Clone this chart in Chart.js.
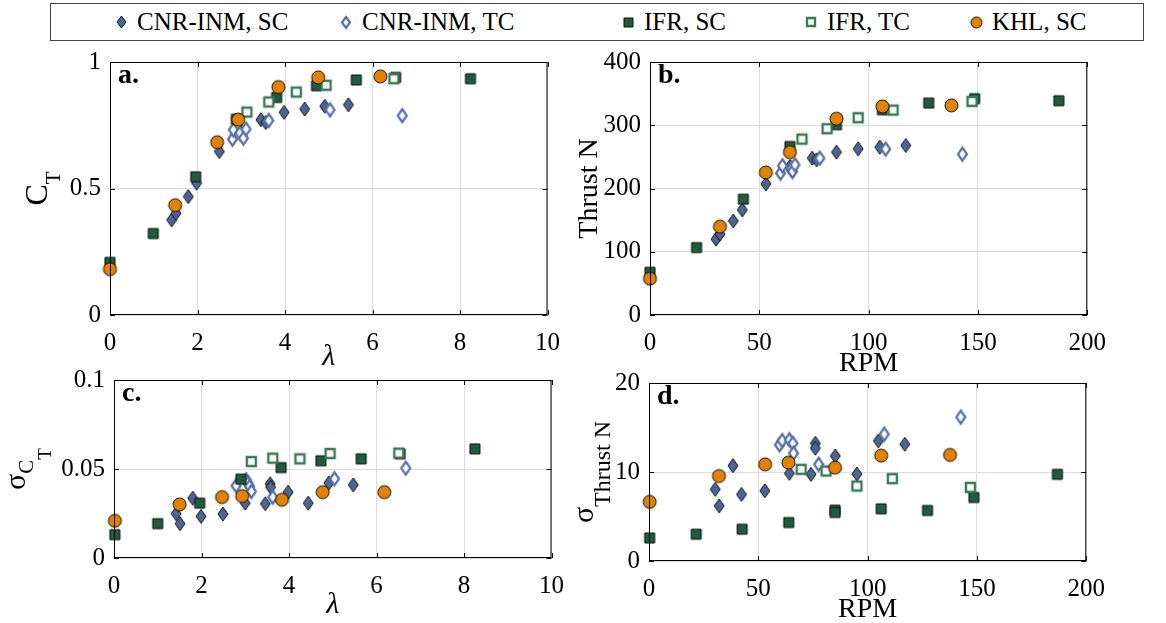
<!DOCTYPE html>
<html>
<head>
<meta charset="utf-8">
<script src="https://cdn.jsdelivr.net/npm/chart.js@4.4.0/dist/chart.umd.min.js"></script>
<style>
  body { margin: 0; background: #fff; width: 1166px; height: 623px; position: relative; overflow: hidden; font-family: "Liberation Serif", serif; }
  .plot { position: absolute; }
  #legend { position: absolute; left: 50px; top: 3px; width: 1092px; height: 36px; border: 1px solid #444; }
  #legend canvas { position: absolute; }
  #legend span { position: absolute; top: 0; line-height: 36px; font-size: 25px; color: #000; white-space: nowrap; }
</style>
</head>
<body>
<div id="legend"></div>
<canvas id="ct" class="plot" width="565" height="330"></canvas>
<canvas id="thrust" class="plot" width="540" height="330"></canvas>
<canvas id="sct" class="plot" width="565" height="259"></canvas>
<canvas id="sthrust" class="plot" width="540" height="256"></canvas>
<script>
// series names
const seriesNames = ['CNR-INM, SC', 'CNR-INM, TC', 'IFR, SC', 'IFR, TC', 'KHL, SC'];

// a. thrust coefficient vs tip speed ratio  [lambda, C_T]
const ctCnrSc = [[1.41,0.376],[1.51,0.402],[1.79,0.468],[1.98,0.521],[2.50,0.646],[3.01,0.726],[3.45,0.772],[3.56,0.761],[3.98,0.801],[4.45,0.814],[4.91,0.825],[5.45,0.831]];
const ctCnrTc = [[2.80,0.695],[2.82,0.732],[2.97,0.719],[3.05,0.699],[3.11,0.735],[3.63,0.769],[5.03,0.811],[6.68,0.788]];
const ctIfrSc = [[0,0.208],[0.99,0.322],[1.96,0.546],[2.89,0.774],[3.81,0.860],[4.72,0.906],[5.63,0.929],[6.53,0.939],[8.24,0.934]];
const ctIfrTc = [[3.13,0.802],[3.63,0.842],[4.26,0.881],[4.94,0.908],[6.49,0.934]];
const ctKhlSc = [[0,0.181],[1.49,0.434],[2.45,0.683],[2.93,0.772],[3.85,0.901],[4.76,0.939],[6.18,0.943]];

// b. thrust vs rotor speed  [RPM, N]
const thCnrSc = [[30.2,119.8],[32.0,128],[38.1,148.8],[42.2,166.2],[53.0,207.4],[64.0,234.8],[64.7,228.5],[74.2,248],[76.2,245.4],[85.3,257.5],[95.2,262.8],[105.1,265.4],[117.0,268]];
const thCnrTc = [[59.7,224.3],[60.6,235.9],[64.7,232.2],[65.2,226.9],[66.3,237.5],[77.7,248],[107.8,262.3],[142.9,254.3]];
const thIfrSc = [[0,67.5],[21.3,106.6],[42.7,183.1],[64.0,266.5],[85.3,300.8],[106.3,324.5],[127.5,335.1],[148.5,342],[187,338.8]];
const thIfrTc = [[69.5,278.1],[81.0,294.5],[95.2,311.9],[111.2,324],[147.3,337.7]];
const thKhlSc = [[0,57.5],[32.0,139.8],[53.0,225.3],[64.0,257.5],[85.3,310.3],[106.3,329.8],[137.9,331.4]];

// c. std of C_T vs lambda
const sctCnrSc = [[1.42,0.0249],[1.51,0.0193],[1.80,0.0336],[1.99,0.0234],[2.49,0.0247],[3.00,0.0308],[3.46,0.0305],[3.57,0.0417],[3.58,0.0398],[3.98,0.0370],[4.44,0.0308],[4.91,0.0421],[5.47,0.0411]];
const sctCnrTc = [[2.79,0.0406],[3.02,0.0439],[3.06,0.0421],[3.10,0.0402],[3.14,0.0374],[3.63,0.0342],[5.04,0.0445],[6.67,0.0505]];
const sctIfrSc = [[0.02,0.0131],[1.00,0.0193],[1.96,0.0308],[2.90,0.0443],[3.82,0.0508],[4.73,0.0546],[5.65,0.0557],[6.54,0.0585],[8.25,0.0613]];
const sctIfrTc = [[3.14,0.0542],[3.63,0.0561],[4.25,0.0557],[4.94,0.0587],[6.51,0.0589]];
const sctKhlSc = [[0.02,0.0209],[1.50,0.0301],[2.47,0.0342],[2.93,0.0348],[3.84,0.0327],[4.77,0.0370],[6.18,0.0370]];

// d. std of thrust vs RPM
const sthCnrSc = [[30.3,8.05],[32.1,6.20],[38.4,10.71],[42.3,7.48],[53.0,7.89],[64.2,9.85],[74.1,9.74],[76.1,13.23],[76.1,12.67],[85.2,11.80],[95.1,9.77],[104.9,13.50],[117.0,13.12]];
const sthCnrTc = [[59.7,13.05],[60.9,13.53],[64.2,13.61],[65.8,13.23],[66.1,12.11],[77.6,10.86],[107.6,14.25],[142.6,16.17]];
const sthIfrSc = [[0.3,2.59],[21.6,3.01],[42.6,3.57],[63.9,4.32],[85.1,5.71],[85.1,5.45],[106.2,5.86],[127.4,5.68],[148.6,7.14],[186.8,9.74]];
const sthIfrTc = [[69.6,10.30],[81.0,10.11],[95.1,8.42],[111.3,9.25],[147.0,8.27]];
const sthKhlSc = [[0.3,6.65],[32.0,9.55],[53.1,10.86],[63.8,11.05],[85.1,10.49],[106.2,11.84],[137.7,11.92]];

const FONT = '"Liberation Serif", "Times New Roman", serif';

// marker images used as point styles
function marker(shape, fill, stroke, lw, w, h) {
    let c = document.createElement('canvas');
    c.width = w + 2 * lw + 2;
    c.height = h + 2 * lw + 2;
    let g = c.getContext('2d');
    let cx = c.width / 2, cy = c.height / 2;
    g.beginPath();
    if (shape == 'diamond') {
        g.moveTo(cx, cy - h / 2); g.lineTo(cx + w / 2, cy);
        g.lineTo(cx, cy + h / 2); g.lineTo(cx - w / 2, cy);
        g.closePath();
    } else if (shape == 'square') {
        g.rect(cx - w / 2, cy - h / 2, w, h);
    } else {
        g.arc(cx, cy, w / 2, 0, Math.PI * 2);
    }
    g.fillStyle = fill;
    g.fill();
    g.lineWidth = lw;
    g.strokeStyle = stroke;
    g.stroke();
    return c;
}

function makeMarkers(scale) {
    let s = v => Math.round(v * scale);
    return [
        marker('diamond', '#4c6597', '#111', 1, s(10), s(14)),
        marker('diamond', '#fff', '#5671a9', 2.2, s(9), s(13)),
        marker('square', '#1f5b3d', '#111', 1, s(10), s(10)),
        marker('square', '#fff', '#3a7a57', 2.4, s(9), s(9)),
        marker('circle', '#e58100', '#111', 1, s(13), s(13))
    ];
}

const markers = makeMarkers(1);

function buildDatasets(series) {
    return series.map((pts, i) => ({
        label: seriesNames[i],
        data: pts.map(p => ({ x: p[0], y: p[1] })),
        pointStyle: markers[i],
        pointRadius: 5,
        showLine: false,
        clip: false,
        order: 4 - i
    }));
}

// draws a rotated axis title made of baseline-shifted parts
function drawVLabel(ctx, parts, x, yc) {
    ctx.save();
    ctx.translate(x, yc);
    ctx.rotate(-Math.PI / 2);
    let total = 0;
    parts.forEach(p => { ctx.font = p.font; p.w = ctx.measureText(p.text).width; total += p.w; });
    let cx = -total / 2;
    ctx.textBaseline = 'alphabetic';
    ctx.textAlign = 'left';
    parts.forEach(p => { ctx.font = p.font; ctx.fillText(p.text, cx, p.dy); cx += p.w; });
    ctx.restore();
}

// box around the axes, inward ticks, panel letter and axis titles
const framePlugin = {
    id: 'frame',
    afterDraw(chart, args, opts) {
        const ctx = chart.ctx;
        const a = chart.chartArea;
        const sx = chart.scales.x, sy = chart.scales.y;
        ctx.save();
        ctx.strokeStyle = '#000';
        ctx.lineWidth = 1;
        ctx.beginPath();
        sx.ticks.forEach(t => {
            let px = Math.round(sx.getPixelForValue(t.value)) + 0.5;
            ctx.moveTo(px, a.bottom); ctx.lineTo(px, a.bottom - 5);
            ctx.moveTo(px, a.top); ctx.lineTo(px, a.top + 5);
        });
        sy.ticks.forEach(t => {
            let py = Math.round(sy.getPixelForValue(t.value)) + 0.5;
            ctx.moveTo(a.left, py); ctx.lineTo(a.left + 5, py);
            ctx.moveTo(a.right, py); ctx.lineTo(a.right - 5, py);
        });
        ctx.stroke();
        ctx.strokeRect(a.left + 0.5, a.top + 0.5, a.right - a.left - 1, a.bottom - a.top - 1);

        ctx.fillStyle = '#000';
        ctx.textBaseline = 'alphabetic';
        ctx.textAlign = 'left';
        ctx.font = `bold 28px ${FONT}`;
        ctx.fillText(opts.letter, a.left + 8, a.top + 21);

        ctx.textAlign = 'center';
        ctx.font = opts.xFont;
        ctx.fillText(opts.xTitle, (a.left + a.right) / 2, a.bottom + opts.xOffset);

        drawVLabel(ctx, opts.yParts, a.left - opts.yOffset, (a.top + a.bottom) / 2);
        ctx.restore();
    }
};

function fmt(v) {
    return String(+v.toFixed(3));
}

function makeConfig(series, xMax, xStep, yMax, yStep, yAxisW, xAxisH, frame) {
    return {
        type: 'scatter',
        data: { datasets: buildDatasets(series) },
        options: {
            responsive: false,
            maintainAspectRatio: false,
            animation: false,
            events: [],
            layout: { padding: { left: 0, top: 4, right: 4, bottom: 0 } },
            plugins: { legend: { display: false }, tooltip: { enabled: false }, frame: frame },
            scales: {
                x: {
                    type: 'linear', min: 0, max: xMax,
                    grid: { color: '#dcdcdc', drawTicks: false },
                    border: { display: false },
                    ticks: { stepSize: xStep, color: '#000', font: { family: FONT, size: 25 }, padding: 13, maxRotation: 0, callback: fmt },
                    afterFit: s => { s.height = xAxisH; }
                },
                y: {
                    type: 'linear', min: 0, max: yMax,
                    grid: { color: '#dcdcdc', drawTicks: false },
                    border: { display: false },
                    ticks: { stepSize: yStep, color: '#000', font: { family: FONT, size: 25 }, padding: 9, callback: fmt },
                    afterFit: s => { s.width = yAxisW; }
                }
            }
        },
        plugins: [framePlugin]
    };
}

// sizes the canvas so the plot area lands on the given page box
function panel(id, box, cfgArgs) {
    let canvas = document.getElementById(id);
    let chart = new Chart(canvas.getContext('2d'), makeConfig(...cfgArgs));
    let a = chart.chartArea;
    let w = canvas.width + (box.right - box.left) - (a.right - a.left);
    let h = canvas.height + (box.bottom - box.top) - (a.bottom - a.top);
    chart.destroy();
    canvas.width = w;
    canvas.height = h;
    chart = new Chart(canvas.getContext('2d'), makeConfig(...cfgArgs));
    a = chart.chartArea;
    canvas.style.left = (box.left - a.left) + 'px';
    canvas.style.top = (box.top - a.top) + 'px';
}

panel('ct', { left: 110, top: 62, right: 548, bottom: 315 },
    [[ctCnrSc, ctCnrTc, ctIfrSc, ctIfrTc, ctKhlSc], 10, 2, 1, 0.5, 110, 61, {
        letter: 'a.', xTitle: 'λ', xFont: `italic 30px ${FONT}`, xOffset: 50, yOffset: 63,
        yParts: [{ text: 'C', font: `32px ${FONT}`, dy: 0 }, { text: 'T', font: `21px ${FONT}`, dy: 13 }]
    }]);

panel('thrust', { left: 650, top: 62, right: 1088, bottom: 315 },
    [[thCnrSc, thCnrTc, thIfrSc, thIfrTc, thKhlSc], 200, 50, 400, 100, 85, 61, {
        letter: 'b.', xTitle: 'RPM', xFont: `28px ${FONT}`, xOffset: 56, yOffset: 53,
        yParts: [{ text: 'Thrust N', font: `28px ${FONT}`, dy: 0 }]
    }]);

panel('sct', { left: 114, top: 380, right: 552, bottom: 558 },
    [[sctCnrSc, sctCnrTc, sctIfrSc, sctIfrTc, sctKhlSc], 10, 2, 0.1, 0.05, 114, 65, {
        letter: 'c.', xTitle: 'λ', xFont: `italic 30px ${FONT}`, xOffset: 55, yOffset: 89,
        yParts: [{ text: 'σ', font: `30px ${FONT}`, dy: 0 }, { text: 'C', font: `21px ${FONT}`, dy: 8 }, { text: 'T', font: `19px ${FONT}`, dy: 26 }]
    }]);

panel('sthrust', { left: 649, top: 383, right: 1087, bottom: 561 },
    [[sthCnrSc, sthCnrTc, sthIfrSc, sthIfrTc, sthKhlSc], 200, 50, 20, 10, 84, 62, {
        letter: 'd.', xTitle: 'RPM', xFont: `28px ${FONT}`, xOffset: 56, yOffset: 56,
        yParts: [{ text: 'σ', font: `30px ${FONT}`, dy: 0 }, { text: 'Thrust N', font: `24px ${FONT}`, dy: 17 }]
    }]);

// shared legend across the top
const legendX = [70, 295, 577, 760, 925];
const legendMarkers = makeMarkers(0.85);
const legend = document.getElementById('legend');
seriesNames.forEach((name, i) => {
    let m = legendMarkers[i];
    m.style.left = (legendX[i] - m.width / 2) + 'px';
    m.style.top = (18 - m.height / 2) + 'px';
    legend.appendChild(m);
    let t = document.createElement('span');
    t.textContent = name;
    t.style.left = (legendX[i] + 16) + 'px';
    legend.appendChild(t);
});
</script>
</body>
</html>
